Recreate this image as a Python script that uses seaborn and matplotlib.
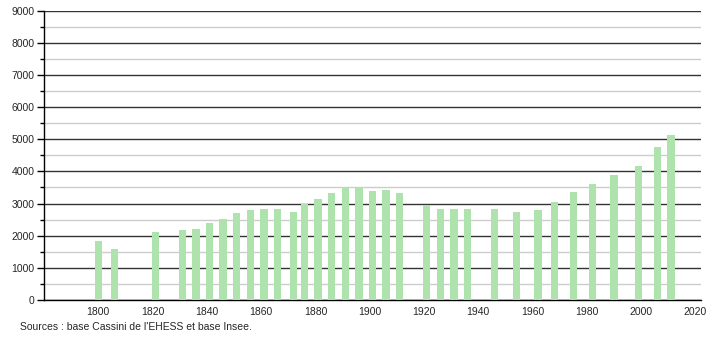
import matplotlib
matplotlib.use("Agg")
import matplotlib.pyplot as plt
import seaborn as sns
import pandas as pd
from matplotlib.ticker import MultipleLocator

years = [1800, 1806, 1821, 1831, 1836, 1841, 1846, 1851, 1856, 1861, 1866,
         1872, 1876, 1881, 1886, 1891, 1896, 1901, 1906, 1911, 1921, 1926,
         1931, 1936, 1946, 1954, 1962, 1968, 1975, 1982, 1990, 1999, 2006, 2011]
population = [1830, 1590, 2120, 2180, 2210, 2400, 2520, 2720, 2810, 2840, 2840,
              2750, 3000, 3150, 3330, 3480, 3480, 3400, 3430, 3330, 2970, 2840,
              2840, 2840, 2840, 2750, 2810, 3040, 3360, 3610, 3890, 4170, 4750, 5140]
yticks = list(range(0, 10000, 1000))
xticks = list(range(1800, 2040, 20))
source = "Sources : base Cassini de l'EHESS et base Insee."

df = pd.DataFrame({"year": years, "pop": population})

sns.set_style("white")
plt.rcParams['font.family'] = ['Liberation Sans', 'DejaVu Sans']

fig = plt.figure(figsize=(7.10, 3.40), dpi=100)
ax = fig.add_axes([0.062, 0.118, 0.925, 0.85])

sns.barplot(data=df, x="year", y="pop", native_scale=True, width=0.68,
            color="#aee3ae", saturation=1, linewidth=0, edgecolor="none",
            ax=ax, zorder=3)

ax.set_xlim(1780, 2022)
ax.set_ylim(0, 9000)
ax.set_yticks(yticks)
ax.set_xticks(xticks)
ax.yaxis.set_minor_locator(MultipleLocator(500))
ax.grid(which="major", axis="y", color="#333333", linewidth=1.0, zorder=1)
ax.grid(which="minor", axis="y", color="#cccccc", linewidth=1.0, zorder=1)
ax.set_axisbelow(True)
ax.set_xlabel("")
ax.set_ylabel("")

for s in ["top", "right"]:
    ax.spines[s].set_visible(False)
for s in ["left", "bottom"]:
    ax.spines[s].set_color("black")
    ax.spines[s].set_linewidth(1.0)

ax.tick_params(axis="y", which="major", length=5, width=1, color="black",
               labelsize=7.5, pad=2, left=True)
ax.tick_params(axis="y", which="minor", length=3, width=1, color="black", left=True)
ax.tick_params(axis="x", length=0, labelsize=7.5, pad=5)

fig.text(0.028, 0.038, source, fontsize=7.5, ha="left", va="center")

fig.savefig("out.png", dpi=100)
